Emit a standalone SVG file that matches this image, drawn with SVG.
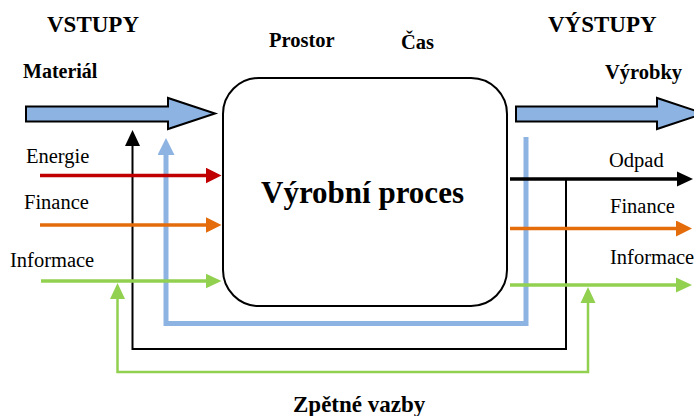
<svg xmlns="http://www.w3.org/2000/svg" width="694" height="416" viewBox="0 0 694 416">
  <style>
    .t { font-family: "Liberation Serif", "Times New Roman", serif; fill: #000; }
    .b { font-weight: bold; }
    .big { fill: #8db3e2; stroke: #000; stroke-width: 2; stroke-linejoin: miter; }
    .flow { fill: none; stroke-width: 3.5; }
    .red { stroke: #c00000; }
    .orange { stroke: #e46c0a; }
    .green { stroke: #92d050; }
    .black { stroke: #000; }
    .fb-black { fill: none; stroke: #000; stroke-width: 2; }
    .fb-blue { fill: none; stroke: #8db3e2; stroke-width: 5; }
    .fb-green { fill: none; stroke: #92d050; stroke-width: 2.5; }
  </style>
  <defs>
    <marker id="ah-red" viewBox="0 0 16 16" refX="8" refY="8" markerWidth="16" markerHeight="16" markerUnits="userSpaceOnUse" orient="auto">
      <path d="M0,0 L16,8 L0,16 z" fill="#c00000"/>
    </marker>
    <marker id="ah-orange" viewBox="0 0 16 16" refX="8" refY="8" markerWidth="16" markerHeight="16" markerUnits="userSpaceOnUse" orient="auto">
      <path d="M0,0 L16,8 L0,16 z" fill="#e46c0a"/>
    </marker>
    <marker id="ah-green" viewBox="0 0 16 16" refX="8" refY="8" markerWidth="16" markerHeight="16" markerUnits="userSpaceOnUse" orient="auto-start-reverse">
      <path d="M0,0.5 L16,8 L0,15.5 z" fill="#92d050"/>
    </marker>
    <marker id="ah-black" viewBox="0 0 16 16" refX="8" refY="8" markerWidth="16" markerHeight="16" markerUnits="userSpaceOnUse" orient="auto">
      <path d="M0,0.5 L16,8 L0,15.5 z" fill="#000"/>
    </marker>
    <marker id="ah-blue" viewBox="0 0 17 17" refX="9" refY="8.5" markerWidth="17" markerHeight="17" markerUnits="userSpaceOnUse" orient="auto">
      <path d="M0,0 L17,8.5 L0,17 z" fill="#8db3e2"/>
    </marker>
  </defs>

  <!-- headings -->
  <g id="headings">
    <text class="t b" x="47" y="32" font-size="23">VSTUPY</text>
    <text class="t b" x="548" y="32" font-size="23">VÝSTUPY</text>
    <text class="t b" x="269" y="47" font-size="20.5">Prostor</text>
    <text class="t b" x="401" y="49" font-size="20.5">Čas</text>
    <text class="t b" x="293" y="412" font-size="23">Zpětné vazby</text>
  </g>

  <!-- feedback loops -->
  <g id="connectors">
    <polyline class="fb-green" points="588,295 588,372 117.5,372 117.5,291" marker-start="url(#ah-green)" marker-end="url(#ah-green)"/>
    <polyline class="fb-black" points="566,179 566,349 132.5,349 132.5,138" marker-end="url(#ah-black)"/>
    <polyline class="fb-blue" points="526,137 526,323.5 166,323.5 166,146" marker-end="url(#ah-blue)"/>

    <!-- inputs -->
    <line class="flow red" x1="40" y1="175.5" x2="213.5" y2="175.5" marker-end="url(#ah-red)"/>
    <line class="flow orange" x1="40" y1="225" x2="213.5" y2="225" marker-end="url(#ah-orange)"/>
    <line class="flow green" x1="41" y1="281" x2="213.5" y2="281" marker-end="url(#ah-green)"/>

    <!-- outputs -->
    <line class="flow black" x1="510" y1="179" x2="685" y2="179" marker-end="url(#ah-black)"/>
    <line class="flow orange" x1="510" y1="228.5" x2="684" y2="228.5" marker-end="url(#ah-orange)"/>
    <line class="flow green" x1="510" y1="285" x2="684" y2="285" marker-end="url(#ah-green)"/>
  </g>

  <!-- material in / products out -->
  <g id="material">
    <polygon class="big" points="26,106.5 168,106.5 168,98 215,113.5 168,129 168,121.5 26,121.5"/>
    <text class="t b" x="23" y="78" font-size="20">Materiál</text>
  </g>
  <g id="products">
    <polygon class="big" points="516,106.5 657,106.5 657,98 704,113.5 657,129 657,121.5 516,121.5"/>
    <text class="t b" x="605" y="79" font-size="20.5">Výrobky</text>
  </g>

  <!-- central process -->
  <g id="process">
    <rect x="223" y="78" width="284" height="228" rx="36" ry="36" fill="#fff" stroke="#000" stroke-width="2"/>
    <text class="t b" x="261" y="203" font-size="31">Výrobní proces</text>
  </g>

  <!-- flow labels -->
  <g id="labels">
    <text class="t" x="26" y="163" font-size="20.5">Energie</text>
    <text class="t" x="24" y="209" font-size="20.5">Finance</text>
    <text class="t" x="10" y="267" font-size="20.5">Informace</text>
    <text class="t" x="609" y="167" font-size="20.5">Odpad</text>
    <text class="t" x="610" y="213" font-size="20.5">Finance</text>
    <text class="t" x="610" y="264" font-size="20.5">Informace</text>
  </g>
</svg>
